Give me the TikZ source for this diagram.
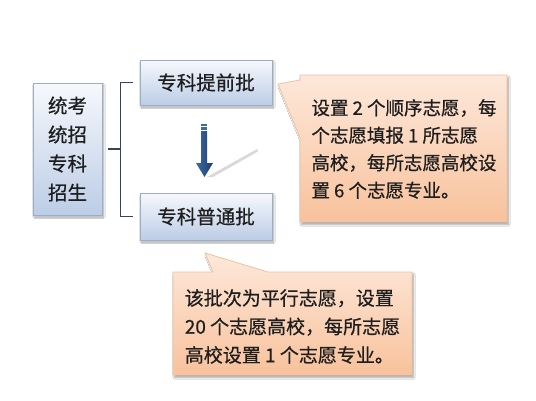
\documentclass[tikz,border=0pt]{standalone}
\usepackage{fontspec}
\newfontfamily\cjk[FakeBold=0.6]{Noto Sans CJK SC}
\usetikzlibrary{shadows.blur}
\definecolor{boxtop}{HTML}{F6F8FC}
\definecolor{boxbot}{HTML}{BCCDE6}
\definecolor{boxline}{HTML}{9AAEC8}
\definecolor{caltop}{HTML}{FDE8DA}
\definecolor{calbot}{HTML}{F8C29C}
\definecolor{calline}{HTML}{EDC3A3}
\definecolor{brk}{HTML}{34465A}
\definecolor{arrtop}{HTML}{3E6AA6}
\definecolor{arrbot}{HTML}{1E3D6E}
\definecolor{txt}{HTML}{1E1E1E}
\tikzset{
  bluebox/.style={draw=boxline, line width=0.8pt, top color=boxtop, bottom color=boxbot,
    blur shadow={shadow xshift=1.5pt, shadow yshift=-2pt, shadow blur steps=6, shadow opacity=35},
    font=\cjk\fontsize{19.5}{29}\selectfont, text=txt, inner sep=0pt, align=center},
  callout/.style={draw=calline, line width=0.8pt, top color=caltop, bottom color=calbot,
    blur shadow={shadow xshift=1.5pt, shadow yshift=-2.5pt, shadow blur steps=6, shadow opacity=35}},
  caltext/.style={text=txt, align=left, inner sep=0pt},
  bracket/.style={draw=brk, line width=1.6pt}
}
\begin{document}
\begin{tikzpicture}[x=1pt,y=-1pt]
\useasboundingbox[fill=white] (0,0) rectangle (536,400);
% left box
\node[bluebox, minimum width=69pt, minimum height=132pt] (left) at (67.5,149)
  {统考\\统招\\专科\\招生};
% right boxes
\node[bluebox, minimum width=132pt, minimum height=45pt] (top) at (206,82.5) {专科提前批};
\node[bluebox, minimum width=132pt, minimum height=47pt] (bot) at (206,216.5) {专科普通批};
% bracket
\draw[bracket] ([xshift=-7pt]top.west) -- ++(-12,0) |- ([xshift=-7pt]bot.west);
\draw[bracket] ([xshift=6pt]left.east) -- ++(13,0);
% down arrow
\fill[gray!30] (207,177) -- (257,149) -- (258,151.5) -- (213,177) -- cycle;
\shade[left color=arrtop, right color=arrbot]
  (201,131) -- (207,131) -- (207,163) -- (213,163) -- (204.5,177) -- (196,163) -- (201,163) -- cycle;
\fill[arrtop] (201,123.5) rectangle (207,125.5);
\fill[arrtop] (201,127) rectangle (207,129.5);
% right callout
\path[callout] (300,75) -- (507,75) -- (507,222) -- (300,222) -- (300,138) -- (278,84) -- (300,80) -- cycle;
\node[caltext, font=\cjk\fontsize{18.5}{27.5}\selectfont] (c1) at (404,149)
  {设置 2 个顺序志愿，每\\个志愿填报 1 所志愿\\高校，每所志愿高校设\\置 6 个志愿专业。};
% bottom callout
\path[callout] (173,272) -- (213,272) -- (205,253) -- (268,272) -- (412,272) -- (412,375) -- (173,375) -- cycle;
\node[caltext, font=\cjk\fontsize{19}{28.5}\selectfont] (c2) at (292.5,326.5)
  {该批次为平行志愿，设置\\20 个志愿高校，每所志愿\\高校设置 1 个志愿专业。};
\end{tikzpicture}
\end{document}
